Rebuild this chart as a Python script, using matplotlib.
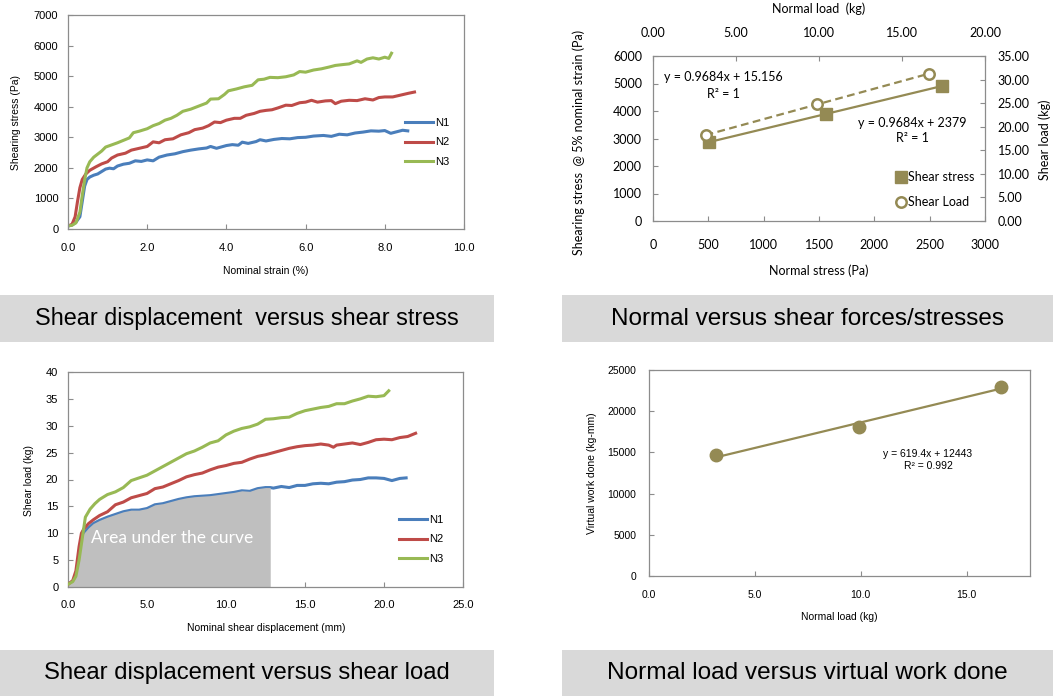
# Shear test results: four panels with captions
import numpy as np
import matplotlib.pyplot as plt
from matplotlib.patches import Rectangle
from matplotlib.lines import Line2D

W, H = 1053, 696

# --- shear stress vs nominal strain (%) ---
strain_n1 = [0.00, 0.10, 0.20, 0.30, 0.36, 0.42, 0.48, 0.55, 0.65, 0.75, 0.85, 0.95, 1.05, 1.15, 1.25, 1.40,
             1.55, 1.70, 1.85, 2.00, 2.15, 2.30, 2.50, 2.70, 2.90, 3.10, 3.30, 3.50, 3.60, 3.75, 4.00, 4.15,
             4.30, 4.40, 4.55, 4.75, 4.85, 5.00, 5.20, 5.40, 5.60, 5.80, 6.00, 6.20, 6.45, 6.65, 6.85, 7.05,
             7.25, 7.45, 7.65, 7.85, 8.00, 8.15, 8.30, 8.45, 8.58]
stress_n1 = [100, 130, 220, 400, 900, 1400, 1620, 1700, 1760, 1800, 1880, 1960, 1990, 1970, 2060, 2120,
             2150, 2230, 2210, 2260, 2230, 2350, 2420, 2460, 2530, 2580, 2620, 2650, 2700, 2640, 2730, 2760,
             2740, 2840, 2800, 2860, 2920, 2880, 2930, 2960, 2950, 2990, 3000, 3040, 3060, 3030, 3100, 3080,
             3140, 3170, 3210, 3200, 3220, 3130, 3180, 3230, 3210]
strain_n2 = [0.00, 0.10, 0.18, 0.24, 0.30, 0.36, 0.45, 0.55, 0.70, 0.85, 1.00, 1.10, 1.25, 1.45, 1.60, 1.80,
             2.00, 2.15, 2.30, 2.45, 2.65, 2.85, 3.05, 3.20, 3.40, 3.55, 3.70, 3.85, 4.00, 4.20, 4.35, 4.50,
             4.70, 4.85, 5.00, 5.15, 5.30, 5.50, 5.65, 5.85, 6.00, 6.15, 6.30, 6.50, 6.65, 6.75, 6.90, 7.10,
             7.30, 7.50, 7.70, 7.85, 8.00, 8.20, 8.40, 8.60, 8.75]
stress_n2 = [100, 150, 400, 900, 1350, 1620, 1800, 1920, 2030, 2130, 2200, 2320, 2420, 2480, 2580, 2640,
             2700, 2850, 2820, 2920, 2950, 3080, 3150, 3250, 3300, 3380, 3500, 3480, 3560, 3620, 3620, 3720,
             3780, 3850, 3880, 3900, 3960, 4050, 4040, 4130, 4150, 4210, 4150, 4190, 4200, 4100, 4180, 4210,
             4200, 4260, 4220, 4300, 4320, 4320, 4380, 4440, 4480]
strain_n3 = [0.00, 0.10, 0.20, 0.30, 0.36, 0.42, 0.48, 0.55, 0.65, 0.75, 0.85, 0.95, 1.10, 1.25, 1.40, 1.55,
             1.65, 1.80, 2.00, 2.15, 2.30, 2.45, 2.60, 2.75, 2.90, 3.10, 3.30, 3.50, 3.60, 3.80, 3.95, 4.05,
             4.25, 4.45, 4.65, 4.80, 4.95, 5.10, 5.30, 5.50, 5.70, 5.85, 6.00, 6.20, 6.40, 6.60, 6.75, 6.95,
             7.10, 7.30, 7.40, 7.55, 7.70, 7.85, 8.00, 8.10, 8.17]
stress_n3 = [100, 120, 200, 550, 1100, 1600, 2000, 2200, 2350, 2450, 2550, 2680, 2750, 2820, 2900, 2980,
             3150, 3200, 3280, 3380, 3450, 3560, 3620, 3720, 3850, 3920, 4020, 4120, 4250, 4260, 4400, 4520,
             4580, 4650, 4700, 4880, 4900, 4960, 4950, 4980, 5040, 5150, 5130, 5200, 5240, 5300, 5350, 5380,
             5400, 5500, 5450, 5560, 5600, 5560, 5620, 5580, 5750]

# --- shear load vs nominal shear displacement (mm) ---
disp_n1 = [0.0, 0.3, 0.5, 0.7, 0.85, 1.0, 1.3, 1.6, 2.0, 2.5, 3.0, 3.5, 4.0, 4.5, 5.0, 5.5, 6.0, 6.5, 7.0,
           7.5, 8.0, 8.5, 9.0, 9.5, 10.0, 10.5, 11.0, 11.5, 12.0, 12.5, 12.8, 13.0, 13.5, 14.0, 14.5, 15.0,
           15.5, 16.0, 16.5, 17.0, 17.5, 18.0, 18.5, 19.0, 19.5, 20.0, 20.5, 21.0, 21.4]
load_n1 = [0.5, 1.0, 2.0, 5.0, 8.5, 10.0, 11.0, 11.8, 12.4, 13.0, 13.5, 14.0, 14.3, 14.3, 14.6, 15.3, 15.5,
           15.9, 16.3, 16.6, 16.8, 16.9, 17.0, 17.2, 17.4, 17.6, 17.9, 17.8, 18.3, 18.5, 18.5, 18.4, 18.7,
           18.5, 18.9, 18.9, 19.2, 19.3, 19.2, 19.5, 19.6, 19.9, 20.0, 20.3, 20.3, 20.2, 19.8, 20.2, 20.3]
disp_n2 = [0.0, 0.3, 0.5, 0.7, 0.85, 1.0, 1.3, 1.6, 2.0, 2.5, 3.0, 3.5, 4.0, 4.5, 5.0, 5.5, 6.0, 6.5, 7.0,
           7.5, 8.0, 8.5, 9.0, 9.5, 10.0, 10.5, 11.0, 11.5, 12.0, 12.5, 13.0, 13.5, 14.0, 14.5, 15.0, 15.5,
           16.0, 16.5, 16.8, 17.0, 17.5, 18.0, 18.5, 19.0, 19.5, 20.0, 20.5, 21.0, 21.5, 22.0]
load_n2 = [0.5, 1.2, 3.0, 7.5, 10.0, 10.8, 11.8, 12.5, 13.3, 14.0, 15.3, 15.8, 16.6, 17.0, 17.4, 18.3, 18.6,
           19.2, 19.8, 20.5, 20.9, 21.2, 21.8, 22.3, 22.6, 23.0, 23.2, 23.8, 24.3, 24.6, 25.0, 25.4, 25.8,
           26.1, 26.3, 26.4, 26.6, 26.4, 26.0, 26.4, 26.6, 26.8, 26.5, 26.9, 27.4, 27.5, 27.4, 27.8, 28.0, 28.6]
disp_n3 = [0.0, 0.3, 0.5, 0.7, 0.9, 1.1, 1.4, 1.7, 2.0, 2.5, 3.0, 3.5, 4.0, 4.5, 5.0, 5.5, 6.0, 6.5, 7.0,
           7.5, 8.0, 8.5, 9.0, 9.5, 10.0, 10.5, 11.0, 11.5, 12.0, 12.5, 13.0, 13.5, 14.0, 14.5, 15.0, 15.5,
           16.0, 16.5, 17.0, 17.5, 18.0, 18.5, 19.0, 19.5, 20.0, 20.3]
load_n3 = [0.5, 1.0, 2.0, 5.0, 9.0, 13.0, 14.5, 15.5, 16.3, 17.2, 17.7, 18.5, 19.8, 20.3, 20.8, 21.6, 22.4,
           23.2, 24.0, 24.8, 25.3, 26.0, 26.8, 27.2, 28.3, 29.0, 29.5, 29.8, 30.3, 31.2, 31.3, 31.5, 31.6,
           32.3, 32.8, 33.1, 33.4, 33.6, 34.1, 34.1, 34.6, 35.0, 35.5, 35.4, 35.6, 36.5]
area_end = 12.8

# --- normal vs shear forces / stresses ---
normal_stress = [506, 1560, 2615]      # Pa
shear_stress = [2869, 3890, 4911]     # Pa at 5% nominal strain
normal_load = [3.17, 9.90, 16.63]     # kg
shear_load = [18.23, 24.74, 31.26]    # kg
stress_trend = (0.9684, 2379)         # slope, intercept
load_trend = (0.9684, 15.156)

# --- virtual work done ---
work_done = [14630, 18110, 22930]     # kg-mm
work_trend = (619.4, 12443)
work_r2 = 0.992

blue, red, green = '#4a7ebb', '#be4b48', '#98b954'
olive = '#948a54'
grey_spine = '#8c8c8c'
arial = 'Liberation Sans'
calibri = 'Lato'


def rect(l, t, r, b):
    return [l / W, 1 - b / H, (r - l) / W, (b - t) / H]


def fx(x):
    return x / W


def fy(y):
    return 1 - y / H


def style(ax, pad_x, pad_y, size, family):
    for s in ax.spines.values():
        s.set_color(grey_spine)
        s.set_linewidth(0.9)
    ax.tick_params(direction='in', length=3.5, width=0.8, color=grey_spine, labelsize=size)
    ax.tick_params(axis='x', pad=pad_x)
    ax.tick_params(axis='y', pad=pad_y)
    for lab in ax.get_xticklabels() + ax.get_yticklabels():
        lab.set_family(family)


fig = plt.figure(figsize=(W / 100, H / 100), dpi=100)

# top left: shear stress
ax1 = fig.add_axes(rect(68, 15, 464, 229))
ax1.plot(strain_n1, stress_n1, color=blue, lw=2.2, label='N1')
ax1.plot(strain_n2, stress_n2, color=red, lw=2.2, label='N2')
ax1.plot(strain_n3, stress_n3, color=green, lw=2.2, label='N3')
ax1.set_xlim(0, 10)
ax1.set_ylim(0, 7000)
ax1.set_xticks(np.arange(0, 10.1, 2))
ax1.set_xticklabels([f'{v:.1f}' for v in np.arange(0, 10.1, 2)])
ax1.set_yticks(range(0, 7001, 1000))
style(ax1, 10, 7, 8, arial)
fig.text(fx(266), fy(271), 'Nominal strain (%)', ha='center', va='center', fontsize=7.5, family=arial)
fig.text(fx(16), fy(122), 'Shearing stress (Pa)', ha='center', va='center', rotation=90, fontsize=7.5,
         family=arial)
ax1.legend(loc='upper left', bbox_to_anchor=(fx(405), fy(118)), bbox_transform=fig.transFigure,
           frameon=False, borderpad=0, borderaxespad=0, handlelength=2.5, handletextpad=0.2,
           labelspacing=0.85, prop={'family': arial, 'size': 8})

# top right: normal vs shear with twin axes
ax2 = fig.add_axes(rect(653, 56, 985, 221))
ax2.plot(normal_stress, shear_stress, 's', color=olive, ms=8, zorder=3)
ax2.plot(normal_stress, np.polyval(stress_trend, normal_stress), '-', color=olive, lw=1.6)
ax2.set_xlim(0, 3000)
ax2.set_ylim(0, 6000)
ax2.set_xticks(range(0, 3001, 500))
ax2.set_yticks(range(0, 6001, 1000))
style(ax2, 13, 8, 9, calibri)

ax3 = fig.add_axes(rect(653, 56, 985, 221), frameon=False)
ax3.plot(normal_load, shear_load, 'o', mfc='white', mec=olive, mew=1.8, ms=7.5, zorder=3)
ax3.plot(normal_load, np.polyval(load_trend, normal_load), '--', color=olive, lw=1.6, dashes=(3.5, 2))
ax3.set_xlim(0, 20)
ax3.set_ylim(0, 35)
ax3.xaxis.tick_top()
ax3.yaxis.tick_right()
ax3.set_xticks(range(0, 21, 5))
ax3.set_xticklabels([f'{v:.2f}' for v in range(0, 21, 5)])
ax3.set_yticks(range(0, 36, 5))
ax3.set_yticklabels([f'{v:.2f}' for v in range(0, 36, 5)])
style(ax3, 12, 9, 9, calibri)
ax3.tick_params(top=True, right=True, bottom=False, left=False)

fig.text(fx(819), fy(9), 'Normal load  (kg)', ha='center', va='center', fontsize=9, family=calibri)
fig.text(fx(819), fy(271), 'Normal stress (Pa)', ha='center', va='center', fontsize=9, family=calibri)
fig.text(fx(579), fy(142), 'Shearing stress  @ 5% nominal strain (Pa)', ha='center', va='center',
         rotation=90, fontsize=9, family=calibri)
fig.text(fx(1045), fy(140), 'Shear load (kg)', ha='center', va='center', rotation=90, fontsize=9,
         family=calibri)
fig.text(fx(723), fy(77), f'y = {load_trend[0]:.4f}x + {load_trend[1]:.3f}', ha='center', va='center',
         fontsize=9, family=calibri)
fig.text(fx(723), fy(94), 'R² = 1', ha='center', va='center', fontsize=9, family=calibri)
fig.text(fx(912), fy(123), f'y = {stress_trend[0]:.4f}x + {stress_trend[1]}', ha='center', va='center',
         fontsize=9, family=calibri)
fig.text(fx(912), fy(138), 'R² = 1', ha='center', va='center', fontsize=9, family=calibri)

# legend entries for the twin axes
fig.lines.append(Line2D([fx(901)], [fy(177)], ls='none', marker='s', color=olive, ms=8,
                        transform=fig.transFigure))
fig.lines.append(Line2D([fx(901)], [fy(202)], ls='none', marker='o', mfc='white', mec=olive, mew=1.8,
                        ms=7.5, transform=fig.transFigure))
fig.text(fx(908), fy(177), 'Shear stress', va='center', fontsize=9, family=calibri)
fig.text(fx(908), fy(202), 'Shear Load', va='center', fontsize=9, family=calibri)

# bottom left: shear load with area under N1
ax4 = fig.add_axes(rect(68, 372, 463, 587))
ax4.plot(disp_n1, load_n1, color=blue, lw=2.2, label='N1', zorder=2)
ax4.plot(disp_n2, load_n2, color=red, lw=2.2, label='N2', zorder=3)
ax4.plot(disp_n3, load_n3, color=green, lw=2.2, label='N3', zorder=3)
d1 = np.array(disp_n1)
mask = d1 <= area_end
ax4.fill_between(d1[mask], np.array(load_n1)[mask], color='#bfbfbf', lw=0, zorder=2.5)
ax4.text(1.45, 9.1, 'Area under the curve', color='white', fontsize=12.5, family=calibri, va='center',
         zorder=4)
ax4.set_xlim(0, 25)
ax4.set_ylim(0, 40)
ax4.set_xticks(range(0, 26, 5))
ax4.set_xticklabels([f'{v:.1f}' for v in range(0, 26, 5)])
ax4.set_yticks(range(0, 41, 5))
style(ax4, 9, 7, 8, arial)
fig.text(fx(266), fy(628), 'Nominal shear displacement (mm)', ha='center', va='center', fontsize=7.5,
         family=arial)
fig.text(fx(29), fy(480), 'Shear load (kg)', ha='center', va='center', rotation=90, fontsize=7.5,
         family=arial)
ax4.legend(loc='upper left', bbox_to_anchor=(fx(399), fy(515)), bbox_transform=fig.transFigure,
           frameon=False, borderpad=0, borderaxespad=0, handlelength=2.5, handletextpad=0.2,
           labelspacing=0.85, prop={'family': arial, 'size': 8})

# bottom right: virtual work done vs normal load
ax5 = fig.add_axes(rect(649, 370, 1030, 576))
ax5.plot(normal_load, work_done, 'o', color=olive, ms=9, zorder=3)
ax5.plot(normal_load, np.polyval(work_trend, normal_load), '-', color=olive, lw=1.6)
ax5.set_xlim(0, 18)
ax5.set_ylim(0, 25000)
ax5.set_xticks([0, 5, 10, 15])
ax5.set_xticklabels(['0.0', '5.0', '10.0', '15.0'])
ax5.set_yticks(range(0, 25001, 5000))
style(ax5, 10, 9, 7.5, arial)
fig.text(fx(839), fy(617), 'Normal load (kg)', ha='center', va='center', fontsize=7.5, family=arial)
fig.text(fx(592), fy(473), 'Virtual work done (kg-mm)', ha='center', va='center', rotation=90,
         fontsize=7.5, family=arial)
fig.text(fx(928), fy(454), f'y = {work_trend[0]}x + {work_trend[1]}', ha='center', va='center',
         fontsize=7.5, family=arial)
fig.text(fx(928), fy(466), f'R² = {work_r2}', ha='center', va='center', fontsize=7.5, family=arial)

# caption boxes
captions = [('Shear displacement  versus shear stress', 0, 295, 494, 342, 16.8),
            ('Normal versus shear forces/stresses', 562, 295, 1053, 342, 17.5),
            ('Shear displacement versus shear load', 0, 650, 494, 696, 17.2),
            ('Normal load versus virtual work done', 562, 650, 1053, 696, 17.6)]
for text, l, t, r, b, size in captions:
    fig.patches.append(Rectangle((fx(l), fy(b)), (r - l) / W, (b - t) / H, transform=fig.transFigure,
                                 facecolor='#d9d9d9', edgecolor='none'))
    fig.text(fx((l + r) / 2), fy((t + b) / 2), text, ha='center', va='center', fontsize=size,
             family=arial)

fig.savefig('out.png', dpi=100)
